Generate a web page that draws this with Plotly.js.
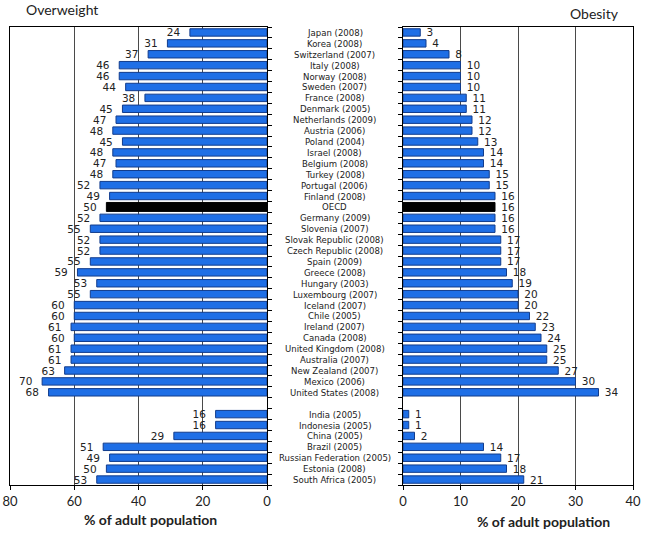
<!DOCTYPE html>
<html>
<head>
<meta charset="utf-8">
<script src="https://cdn.plot.ly/plotly-3.0.1.min.js"></script>
<style>html,body{margin:0;padding:0;background:#fff;}#chart{width:650px;height:534px;}</style>
</head>
<body>
<div id="chart"></div>
<script>
// Rows top to bottom; "" marks the blank spacer row
const categories = [
  "Japan (2008)","Korea (2008)","Switzerland (2007)","Italy (2008)","Norway (2008)","Sweden (2007)",
  "France (2008)","Denmark (2005)","Netherlands (2009)","Austria (2006)","Poland (2004)","Israel (2008)",
  "Belgium (2008)","Turkey (2008)","Portugal (2006)","Finland (2008)","OECD","Germany (2009)",
  "Slovenia (2007)","Slovak Republic (2008)","Czech Republic (2008)","Spain (2009)","Greece (2008)",
  "Hungary (2003)","Luxembourg (2007)","Iceland (2007)","Chile (2005)","Ireland (2007)","Canada (2008)",
  "United Kingdom (2008)","Australia (2007)","New Zealand (2007)","Mexico (2006)","United States (2008)",
  "",
  "India (2005)","Indonesia (2005)","China (2005)","Brazil (2005)","Russian Federation (2005)",
  "Estonia (2008)","South Africa (2005)"
];
const overweight = [24,31,37,46,46,44,38,45,47,48,45,48,47,48,52,49,50,52,55,52,52,55,59,53,55,60,60,61,60,61,61,63,70,68,
  null,16,16,29,51,49,50,53];
const obesity = [3,4,8,10,10,10,11,11,12,12,13,14,14,15,15,16,16,16,16,17,17,17,18,19,20,20,22,23,24,25,25,27,30,34,
  null,1,1,2,14,17,18,21];
const leftTicks = [0,20,40,60,80];
const rightTicks = [0,10,20,30,40];
const highlight = "OECD";

const yIdx = categories.map((c,i)=>i);
const blue = "#1f6fe6", edge = "#123c8c";
const colors = categories.map(c => c===highlight ? "#000" : blue);
const lines = categories.map(c => c===highlight ? "#000" : edge);
const widths = categories.map(c => c===highlight ? 0.82 : 0.68);
const bounds = [];
for (let k=-1;k<categories.length;k++) bounds.push(k+0.5);

const numFont = {family:"DejaVu Sans, Verdana, sans-serif", size:10.5, color:"#222"};
const NB = "\u00a0";

const traces = [
  {type:"bar", orientation:"h", x:overweight, y:yIdx, xaxis:"x", yaxis:"y",
   marker:{color:colors, line:{color:lines, width:1}}, width:widths,
   text:overweight.map(v=>v==null?"":String(v)+NB+NB), textposition:"outside", textfont:numFont,
   constraintext:"none", cliponaxis:false, hoverinfo:"none"},
  {type:"bar", orientation:"h", x:obesity, y:yIdx, xaxis:"x2", yaxis:"y2",
   marker:{color:colors, line:{color:lines, width:1}}, width:widths,
   text:obesity.map(v=>v==null?"":NB+String(v)), textposition:"outside", textfont:numFont,
   constraintext:"none", cliponaxis:false, hoverinfo:"none"}
];

const yRange = [categories.length-0.5, -0.5];
const tickFont = {family:"Lato, 'Open Sans', sans-serif", size:13, color:"#222"};
const gridC = "#4a4a4a";

// paper y relative to plot area (top 27px, bottom 485px)
const py = px => (485-px)/458;

const annotations = categories.filter(c=>c!=="").map(c => ({
  text:c, x:335/650, xref:"paper", y:categories.indexOf(c), yref:"y",
  showarrow:false, xanchor:"center", yanchor:"middle",
  font:{family:"'Liberation Sans Narrow', 'DejaVu Sans Condensed', sans-serif", size:9.5, color:"#222"}
}));
annotations.push(
  {text:"Overweight", x:62/650, y:py(10), xref:"paper", yref:"paper", showarrow:false,
   xanchor:"center", yanchor:"middle", font:{family:"Lato, sans-serif", size:14, color:"#222"}},
  {text:"Obesity", x:594/650, y:py(14), xref:"paper", yref:"paper", showarrow:false,
   xanchor:"center", yanchor:"middle", font:{family:"Lato, sans-serif", size:14, color:"#222"}},
  {text:"<b>% of adult population</b>", x:150/650, y:py(519), xref:"paper", yref:"paper", showarrow:false,
   xanchor:"center", yanchor:"middle", font:{family:"Lato, sans-serif", size:14, color:"#222"}},
  {text:"<b>% of adult population</b>", x:543/650, y:py(521), xref:"paper", yref:"paper", showarrow:false,
   xanchor:"center", yanchor:"middle", font:{family:"Lato, sans-serif", size:14, color:"#222"}}
);

const layout = {
  width:650, height:534, margin:{l:0,r:0,t:27,b:49},
  paper_bgcolor:"#fff", plot_bgcolor:"#fff", showlegend:false, bargap:0,
  xaxis:{domain:[10/650,267/650], range:[80,0], tickvals:leftTicks, showgrid:true, gridcolor:gridC, gridwidth:1,
    zeroline:false, showline:true, mirror:true, linecolor:"#000", linewidth:1, ticks:"outside", ticklen:4,
    tickcolor:"#000", tickfont:tickFont, anchor:"y"},
  yaxis:{range:yRange, anchor:"x", side:"right", tickvals:bounds, showticklabels:false, ticks:"outside", ticklen:4,
    tickcolor:"#000", showline:true, mirror:true, linecolor:"#000", showgrid:false, zeroline:false},
  xaxis2:{domain:[403/650,633/650], range:[0,40], tickvals:rightTicks, showgrid:true, gridcolor:gridC, gridwidth:1,
    zeroline:false, showline:true, mirror:true, linecolor:"#000", linewidth:1, ticks:"outside", ticklen:4,
    tickcolor:"#000", tickfont:tickFont, anchor:"y2"},
  yaxis2:{range:yRange, anchor:"x2", side:"left", tickvals:bounds, showticklabels:false, ticks:"outside", ticklen:4,
    tickcolor:"#000", showline:true, mirror:true, linecolor:"#000", showgrid:false, zeroline:false},
  annotations:annotations
};

Plotly.newPlot("chart", traces, layout, {staticPlot:true, displayModeBar:false});
</script>
</body>
</html>
